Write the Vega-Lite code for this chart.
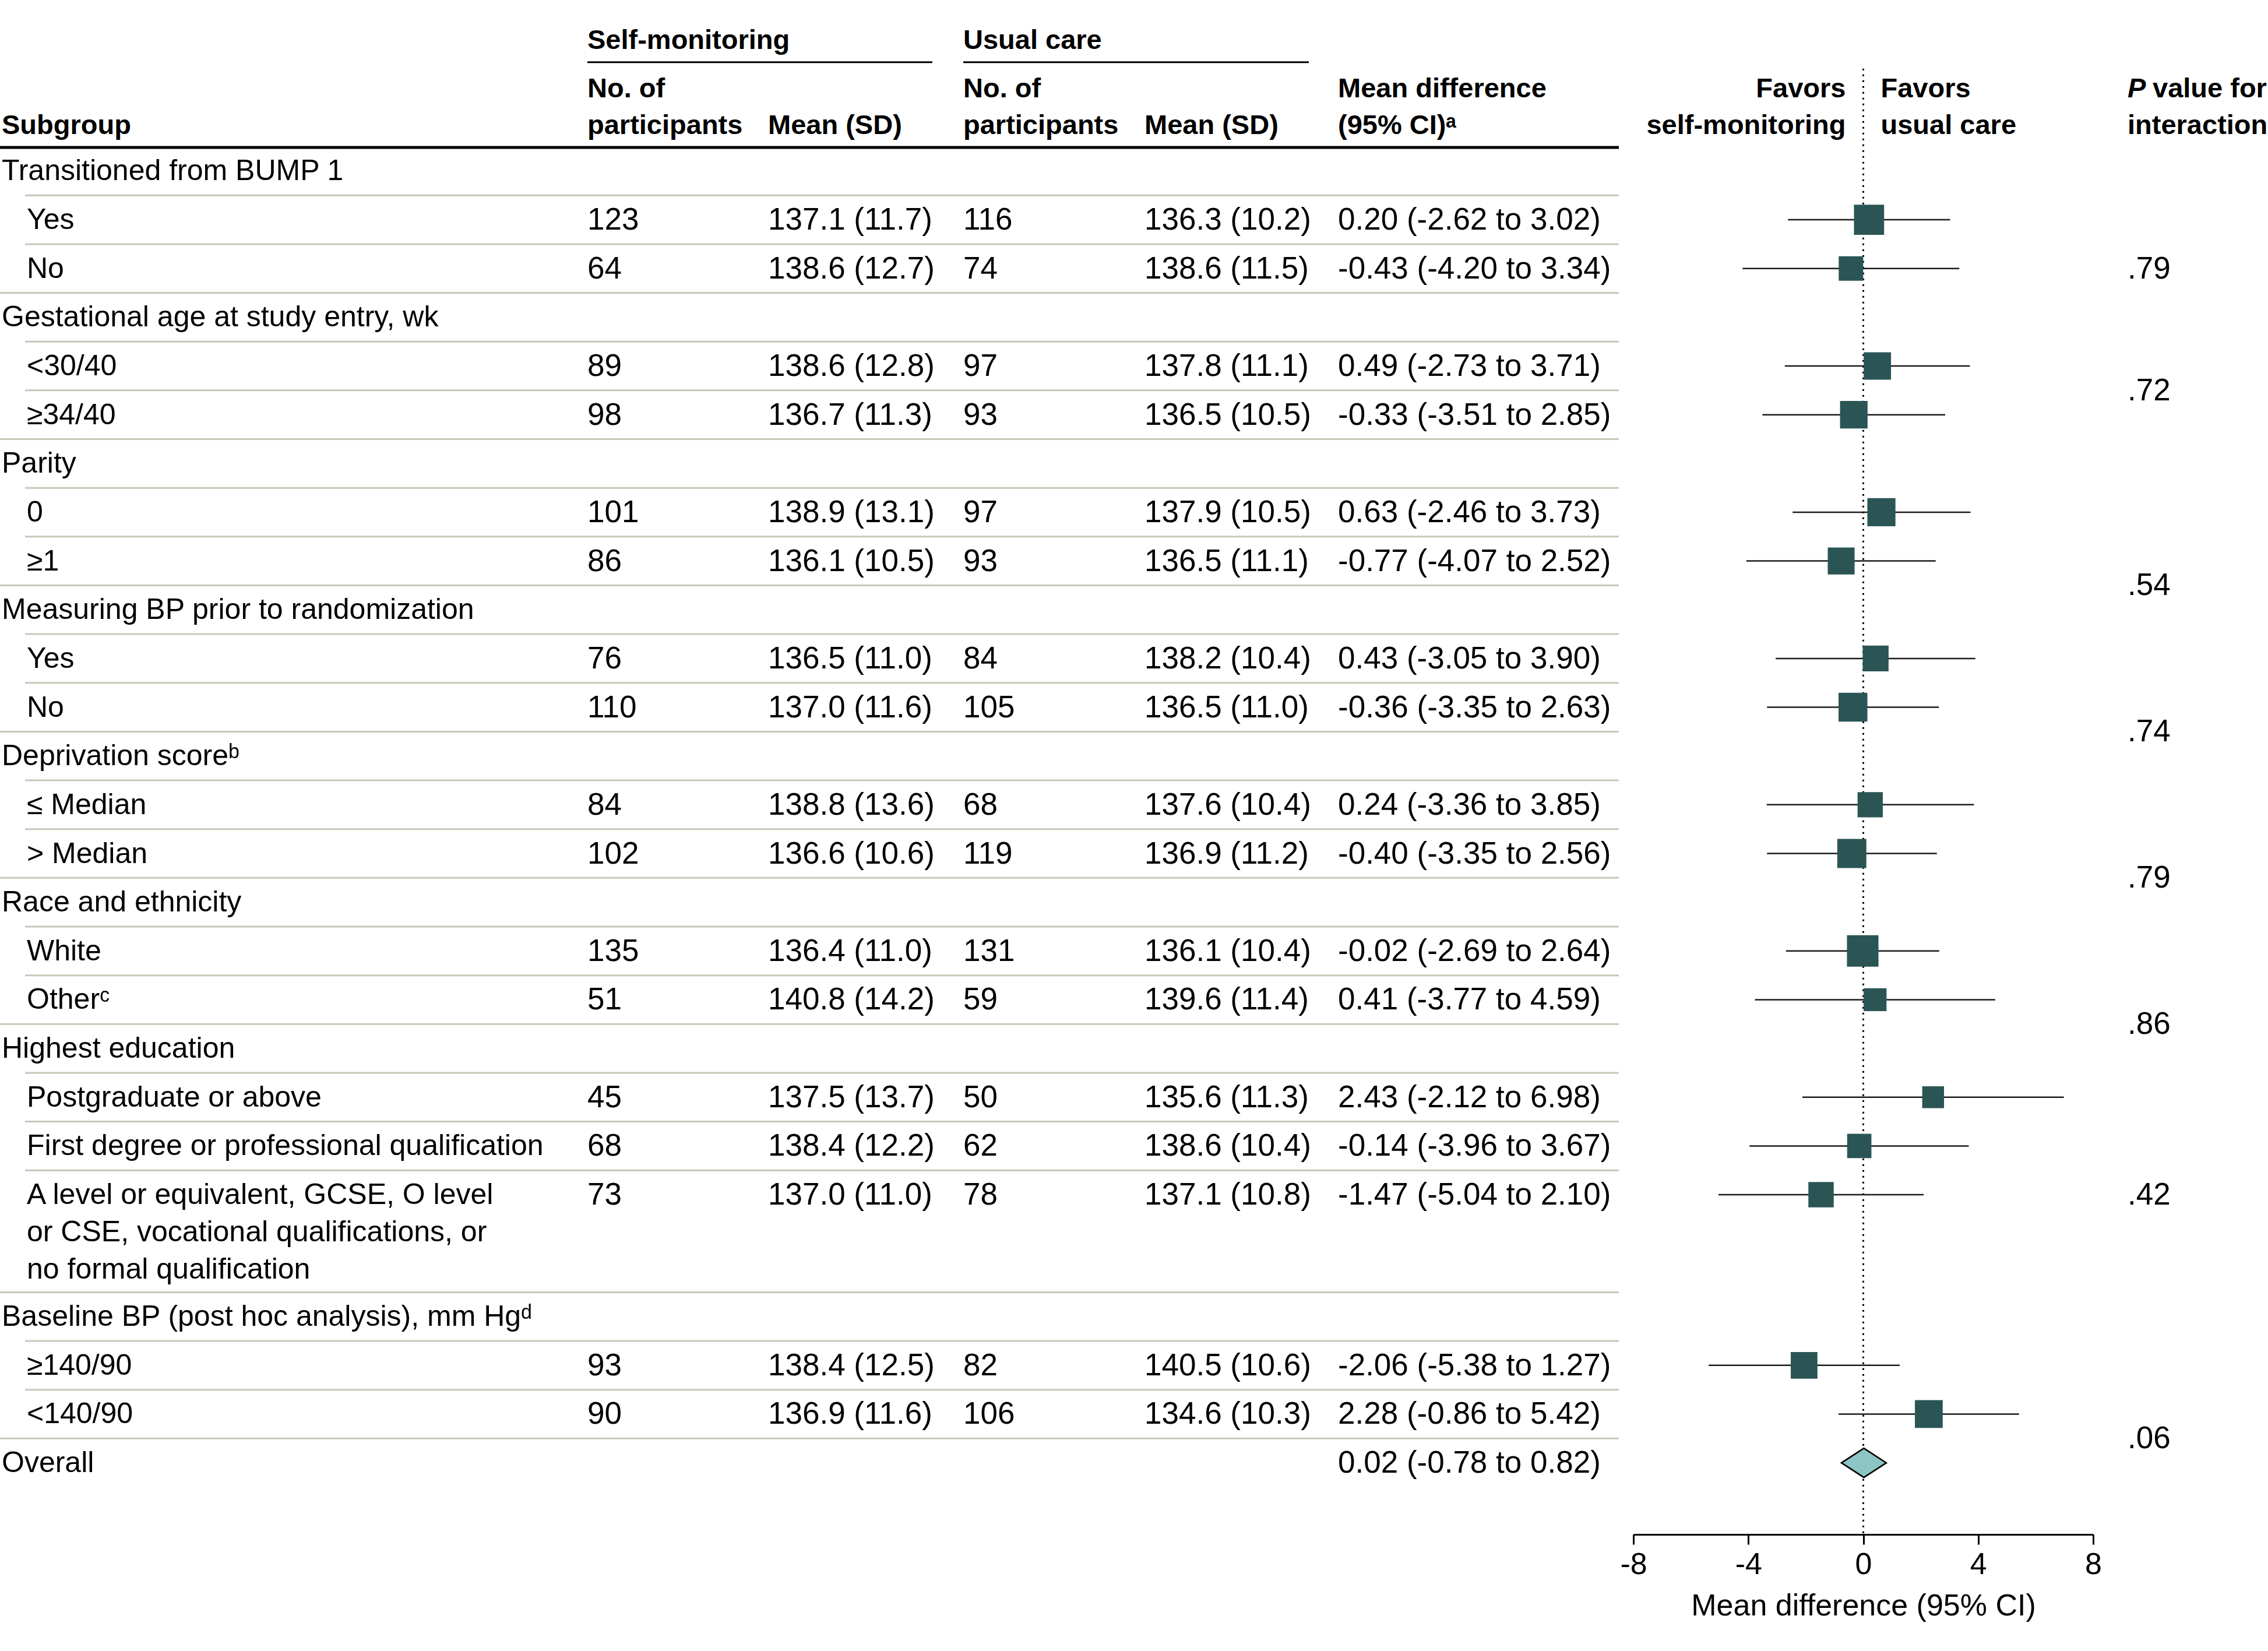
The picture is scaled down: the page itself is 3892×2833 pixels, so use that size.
{
  "$schema": "https://vega.github.io/schema/vega-lite/v6.json",
  "width": 3892,
  "height": 2633,
  "autosize": {"type": "none"},
  "padding": {"left": 0, "right": 0, "top": 0, "bottom": 200},
  "background": "white",
  "config": {
    "view": {"stroke": null},
    "font": "Liberation Sans",
    "text": {"font": "Liberation Sans", "color": "#000", "baseline": "alphabetic", "align": "left"},
    "axisX": {
      "labelFont": "Liberation Sans", "labelFontSize": 52, "labelColor": "#000",
      "titleFont": "Liberation Sans", "titleFontSize": 52, "titleFontWeight": "normal", "titleColor": "#000",
      "domainColor": "#000", "domainWidth": 3, "tickColor": "#000", "tickWidth": 3, "tickSize": 17,
      "labelPadding": 9, "titlePadding": 20, "grid": false, "labelFlush": false, "labelOverlap": false
    }
  },
  "datasets": {
    "rows": [
      {"r": 0, "kind": "group", "label": "Transitioned from BUMP 1"},
      {"r": 1, "kind": "item", "label": "Yes", "n1": "123", "m1": "137.1 (11.7)", "n2": "116", "m2": "136.3 (10.2)", "md": "0.20 (-2.62 to 3.02)", "est": 0.20, "lo": -2.62, "hi": 3.02, "weight": 0.483},
      {"r": 2, "kind": "item", "label": "No", "n1": "64", "m1": "138.6 (12.7)", "n2": "74", "m2": "138.6 (11.5)", "md": "-0.43 (-4.20 to 3.34)", "est": -0.43, "lo": -4.20, "hi": 3.34, "weight": 0.270},
      {"r": 3, "kind": "group", "label": "Gestational age at study entry, wk"},
      {"r": 4, "kind": "item", "label": "<30/40", "n1": "89", "m1": "138.6 (12.8)", "n2": "97", "m2": "137.8 (11.1)", "md": "0.49 (-2.73 to 3.71)", "est": 0.49, "lo": -2.73, "hi": 3.71, "weight": 0.370},
      {"r": 5, "kind": "item", "label": "≥34/40", "n1": "98", "m1": "136.7 (11.3)", "n2": "93", "m2": "136.5 (10.5)", "md": "-0.33 (-3.51 to 2.85)", "est": -0.33, "lo": -3.51, "hi": 2.85, "weight": 0.380},
      {"r": 6, "kind": "group", "label": "Parity"},
      {"r": 7, "kind": "item", "label": "0", "n1": "101", "m1": "138.9 (13.1)", "n2": "97", "m2": "137.9 (10.5)", "md": "0.63 (-2.46 to 3.73)", "est": 0.63, "lo": -2.46, "hi": 3.73, "weight": 0.401},
      {"r": 8, "kind": "item", "label": "≥1", "n1": "86", "m1": "136.1 (10.5)", "n2": "93", "m2": "136.5 (11.1)", "md": "-0.77 (-4.07 to 2.52)", "est": -0.77, "lo": -4.07, "hi": 2.52, "weight": 0.354},
      {"r": 9, "kind": "group", "label": "Measuring BP prior to randomization"},
      {"r": 10, "kind": "item", "label": "Yes", "n1": "76", "m1": "136.5 (11.0)", "n2": "84", "m2": "138.2 (10.4)", "md": "0.43 (-3.05 to 3.90)", "est": 0.43, "lo": -3.05, "hi": 3.90, "weight": 0.318},
      {"r": 11, "kind": "item", "label": "No", "n1": "110", "m1": "137.0 (11.6)", "n2": "105", "m2": "136.5 (11.0)", "md": "-0.36 (-3.35 to 2.63)", "est": -0.36, "lo": -3.35, "hi": 2.63, "weight": 0.430},
      {"r": 12, "kind": "group", "label": "Deprivation scoreᵇ"},
      {"r": 13, "kind": "item", "label": "≤ Median", "n1": "84", "m1": "138.8 (13.6)", "n2": "68", "m2": "137.6 (10.4)", "md": "0.24 (-3.36 to 3.85)", "est": 0.24, "lo": -3.36, "hi": 3.85, "weight": 0.296},
      {"r": 14, "kind": "item", "label": "> Median", "n1": "102", "m1": "136.6 (10.6)", "n2": "119", "m2": "136.9 (11.2)", "md": "-0.40 (-3.35 to 2.56)", "est": -0.40, "lo": -3.35, "hi": 2.56, "weight": 0.440},
      {"r": 15, "kind": "group", "label": "Race and ethnicity"},
      {"r": 16, "kind": "item", "label": "White", "n1": "135", "m1": "136.4 (11.0)", "n2": "131", "m2": "136.1 (10.4)", "md": "-0.02 (-2.69 to 2.64)", "est": -0.02, "lo": -2.69, "hi": 2.64, "weight": 0.541},
      {"r": 17, "kind": "item", "label": "Otherᶜ", "n1": "51", "m1": "140.8 (14.2)", "n2": "59", "m2": "139.6 (11.4)", "md": "0.41 (-3.77 to 4.59)", "est": 0.41, "lo": -3.77, "hi": 4.59, "weight": 0.220},
      {"r": 18, "kind": "group", "label": "Highest education"},
      {"r": 19, "kind": "item", "label": "Postgraduate or above", "n1": "45", "m1": "137.5 (13.7)", "n2": "50", "m2": "135.6 (11.3)", "md": "2.43 (-2.12 to 6.98)", "est": 2.43, "lo": -2.12, "hi": 6.98, "weight": 0.186},
      {"r": 20, "kind": "item", "label": "First degree or professional qualification", "n1": "68", "m1": "138.4 (12.2)", "n2": "62", "m2": "138.6 (10.4)", "md": "-0.14 (-3.96 to 3.67)", "est": -0.14, "lo": -3.96, "hi": 3.67, "weight": 0.264},
      {"r": 21, "kind": "item", "label": "A level or equivalent, GCSE, O level\nor CSE, vocational qualifications, or\nno formal qualification", "n1": "73", "m1": "137.0 (11.0)", "n2": "78", "m2": "137.1 (10.8)", "md": "-1.47 (-5.04 to 2.10)", "est": -1.47, "lo": -5.04, "hi": 2.10, "weight": 0.301},
      {"r": 23.5, "kind": "group", "label": "Baseline BP (post hoc analysis), mm Hgᵈ"},
      {"r": 24.5, "kind": "item", "label": "≥140/90", "n1": "93", "m1": "138.4 (12.5)", "n2": "82", "m2": "140.5 (10.6)", "md": "-2.06 (-5.38 to 1.27)", "est": -2.06, "lo": -5.38, "hi": 1.27, "weight": 0.348},
      {"r": 25.5, "kind": "item", "label": "<140/90", "n1": "90", "m1": "136.9 (11.6)", "n2": "106", "m2": "134.6 (10.3)", "md": "2.28 (-0.86 to 5.42)", "est": 2.28, "lo": -0.86, "hi": 5.42, "weight": 0.390},
      {"r": 26.5, "kind": "overall", "label": "Overall", "md": "0.02 (-0.78 to 0.82)", "est": 0.02, "lo": -0.78, "hi": 0.82}
    ],
    "pvals": [
      {"r": 2, "p": ".79"},
      {"r": 4.5, "p": ".72"},
      {"r": 8.5, "p": ".54"},
      {"r": 11.5, "p": ".74"},
      {"r": 14.5, "p": ".79"},
      {"r": 17.5, "p": ".86"},
      {"r": 21, "p": ".42"},
      {"r": 26, "p": ".06"}
    ]
  },
  "layer": [
    {
      "data": {"values": [{"line": "header"}]},
      "mark": {"type": "rule", "color": "#000", "strokeWidth": 5},
      "encoding": {
        "x": {"value": 0}, "x2": {"value": 2778},
        "y": {"datum": -0.483, "type": "quantitative", "scale": {"domain": [0, 28], "range": [293.4, 2635.6], "nice": false, "zero": false}, "axis": null}
      }
    },
    {
      "data": {"values": [{"line": "self"}]},
      "mark": {"type": "rule", "color": "#000", "strokeWidth": 3},
      "encoding": {
        "x": {"value": 1008}, "x2": {"value": 1600},
        "y": {"datum": -2.23, "type": "quantitative", "axis": null}
      }
    },
    {
      "data": {"values": [{"line": "usual"}]},
      "mark": {"type": "rule", "color": "#000", "strokeWidth": 3},
      "encoding": {
        "x": {"value": 1653}, "x2": {"value": 2246},
        "y": {"datum": -2.23, "type": "quantitative", "axis": null}
      }
    },
    {
      "data": {"name": "rows"},
      "transform": [{"filter": "datum.kind != 'item' && datum.r > 0"}],
      "mark": {"type": "rule", "color": "#c6c9b9", "strokeWidth": 3, "yOffset": -41.8},
      "encoding": {
        "x": {"value": 0}, "x2": {"value": 2778},
        "y": {"field": "r", "type": "quantitative", "axis": null}
      }
    },
    {
      "data": {"name": "rows"},
      "transform": [{"filter": "datum.kind == 'item'"}],
      "mark": {"type": "rule", "color": "#c6c9b9", "strokeWidth": 3, "yOffset": -41.8},
      "encoding": {
        "x": {"value": 43}, "x2": {"value": 2778},
        "y": {"field": "r", "type": "quantitative", "axis": null}
      }
    },
    {
      "data": {"name": "rows"},
      "transform": [{"filter": "datum.kind != 'item'"}],
      "mark": {"type": "text", "fontSize": 50, "dy": 16},
      "encoding": {
        "x": {"value": 3},
        "y": {"field": "r", "type": "quantitative", "axis": null},
        "text": {"field": "label", "type": "nominal"}
      }
    },
    {
      "data": {"name": "rows"},
      "transform": [{"filter": "datum.kind == 'item'"}],
      "mark": {"type": "text", "fontSize": 50, "dy": 16, "lineBreak": "\n", "lineHeight": 64},
      "encoding": {
        "x": {"value": 46},
        "y": {"field": "r", "type": "quantitative", "axis": null},
        "text": {"field": "label", "type": "nominal"}
      }
    },
    {
      "data": {"name": "rows"},
      "transform": [{"filter": "isValid(datum.n1)"}],
      "mark": {"type": "text", "fontSize": 53, "dy": 17},
      "encoding": {
        "x": {"value": 1008},
        "y": {"field": "r", "type": "quantitative", "axis": null},
        "text": {"field": "n1", "type": "nominal"}
      }
    },
    {
      "data": {"name": "rows"},
      "transform": [{"filter": "isValid(datum.m1)"}],
      "mark": {"type": "text", "fontSize": 53, "dy": 17},
      "encoding": {
        "x": {"value": 1318},
        "y": {"field": "r", "type": "quantitative", "axis": null},
        "text": {"field": "m1", "type": "nominal"}
      }
    },
    {
      "data": {"name": "rows"},
      "transform": [{"filter": "isValid(datum.n2)"}],
      "mark": {"type": "text", "fontSize": 53, "dy": 17},
      "encoding": {
        "x": {"value": 1653},
        "y": {"field": "r", "type": "quantitative", "axis": null},
        "text": {"field": "n2", "type": "nominal"}
      }
    },
    {
      "data": {"name": "rows"},
      "transform": [{"filter": "isValid(datum.m2)"}],
      "mark": {"type": "text", "fontSize": 53, "dy": 17},
      "encoding": {
        "x": {"value": 1964},
        "y": {"field": "r", "type": "quantitative", "axis": null},
        "text": {"field": "m2", "type": "nominal"}
      }
    },
    {
      "data": {"name": "rows"},
      "transform": [{"filter": "isValid(datum.md)"}],
      "mark": {"type": "text", "fontSize": 53, "dy": 17},
      "encoding": {
        "x": {"value": 2296},
        "y": {"field": "r", "type": "quantitative", "axis": null},
        "text": {"field": "md", "type": "nominal"}
      }
    },
    {
      "data": {"name": "pvals"},
      "mark": {"type": "text", "fontSize": 53, "dy": 17},
      "encoding": {
        "x": {"value": 3651},
        "y": {"field": "r", "type": "quantitative", "axis": null},
        "text": {"field": "p", "type": "nominal"}
      }
    },
    {
      "data": {"values": [{"t": "Subgroup", "r": -0.96}]},
      "mark": {"type": "text", "fontSize": 47, "fontWeight": "bold", "dy": 17},
      "encoding": {
        "x": {"value": 3},
        "y": {"field": "r", "type": "quantitative", "axis": null},
        "text": {"field": "t", "type": "nominal"}
      }
    },
    {
      "data": {"values": [{"t": "Self-monitoring", "r": -2.71}, {"t": "No. of", "r": -1.71}, {"t": "participants", "r": -0.96}]},
      "mark": {"type": "text", "fontSize": 47, "fontWeight": "bold", "dy": 17},
      "encoding": {
        "x": {"value": 1008},
        "y": {"field": "r", "type": "quantitative", "axis": null},
        "text": {"field": "t", "type": "nominal"}
      }
    },
    {
      "data": {"values": [{"t": "Mean (SD)", "r": -0.96}]},
      "mark": {"type": "text", "fontSize": 47, "fontWeight": "bold", "dy": 17},
      "encoding": {
        "x": {"value": 1318},
        "y": {"field": "r", "type": "quantitative", "axis": null},
        "text": {"field": "t", "type": "nominal"}
      }
    },
    {
      "data": {"values": [{"t": "Usual care", "r": -2.71}, {"t": "No. of", "r": -1.71}, {"t": "participants", "r": -0.96}]},
      "mark": {"type": "text", "fontSize": 47, "fontWeight": "bold", "dy": 17},
      "encoding": {
        "x": {"value": 1653},
        "y": {"field": "r", "type": "quantitative", "axis": null},
        "text": {"field": "t", "type": "nominal"}
      }
    },
    {
      "data": {"values": [{"t": "Mean (SD)", "r": -0.96}]},
      "mark": {"type": "text", "fontSize": 47, "fontWeight": "bold", "dy": 17},
      "encoding": {
        "x": {"value": 1964},
        "y": {"field": "r", "type": "quantitative", "axis": null},
        "text": {"field": "t", "type": "nominal"}
      }
    },
    {
      "data": {"values": [{"t": "Mean difference", "r": -1.71}, {"t": "(95% CI)ᵃ", "r": -0.96}]},
      "mark": {"type": "text", "fontSize": 47, "fontWeight": "bold", "dy": 17},
      "encoding": {
        "x": {"value": 2296},
        "y": {"field": "r", "type": "quantitative", "axis": null},
        "text": {"field": "t", "type": "nominal"}
      }
    },
    {
      "data": {"values": [{"t": "P", "r": -1.71}]},
      "mark": {"type": "text", "fontSize": 47, "fontWeight": "bold", "fontStyle": "italic", "dy": 17},
      "encoding": {
        "x": {"value": 3651},
        "y": {"field": "r", "type": "quantitative", "axis": null},
        "text": {"field": "t", "type": "nominal"}
      }
    },
    {
      "data": {"values": [{"t": "value for", "r": -1.71}]},
      "mark": {"type": "text", "fontSize": 47, "fontWeight": "bold", "dy": 17},
      "encoding": {
        "x": {"value": 3694},
        "y": {"field": "r", "type": "quantitative", "axis": null},
        "text": {"field": "t", "type": "nominal"}
      }
    },
    {
      "data": {"values": [{"t": "interaction", "r": -0.96}]},
      "mark": {"type": "text", "fontSize": 47, "fontWeight": "bold", "dy": 17},
      "encoding": {
        "x": {"value": 3651},
        "y": {"field": "r", "type": "quantitative", "axis": null},
        "text": {"field": "t", "type": "nominal"}
      }
    },
    {
      "data": {"values": [{"ref": 0}]},
      "mark": {"type": "rule", "color": "#000", "strokeWidth": 3, "strokeDash": [3, 7]},
      "encoding": {
        "x": {"field": "ref", "type": "quantitative", "scale": {"domain": [-8, 8], "range": [2803, 3592], "nice": false, "zero": false}, "title": "Mean difference (95% CI)",
              "axis": {"values": [-8, -4, 0, 4, 8], "labelExpr": "datum.value < 0 ? '-' + abs(datum.value) : '' + datum.value"}},
        "y": {"datum": -2.1, "type": "quantitative", "axis": null},
        "y2": {"datum": 28}
      }
    },
    {
      "data": {"name": "rows"},
      "transform": [{"filter": "datum.kind == 'item'"}],
      "mark": {"type": "rule", "color": "#1b1b1b", "strokeWidth": 2.5},
      "encoding": {
        "x": {"field": "lo", "type": "quantitative", "title": "Mean difference (95% CI)"},
        "x2": {"field": "hi", "title": "Mean difference (95% CI)"},
        "y": {"field": "r", "type": "quantitative", "axis": null}
      }
    },
    {
      "data": {"name": "rows"},
      "transform": [{"filter": "datum.kind == 'item'"}],
      "mark": {"type": "point", "shape": "square", "filled": true, "color": "#2b5555", "opacity": 1, "strokeWidth": 0},
      "encoding": {
        "x": {"field": "est", "type": "quantitative", "title": "Mean difference (95% CI)"},
        "y": {"field": "r", "type": "quantitative", "axis": null},
        "size": {"field": "weight", "type": "quantitative", "scale": {"domain": [0, 1], "range": [600, 4900], "zero": false}, "legend": null}
      }
    },
    {
      "data": {"name": "rows"},
      "transform": [{"filter": "datum.kind == 'overall'"}],
      "mark": {"type": "point", "shape": "M-1,0L0,-0.65L1,0L0,0.65Z", "size": 5929, "filled": true, "color": "#8cc5c3", "stroke": "#000", "strokeWidth": 2.5, "opacity": 1},
      "encoding": {
        "x": {"field": "est", "type": "quantitative", "title": "Mean difference (95% CI)"},
        "y": {"field": "r", "type": "quantitative", "axis": null}
      }
    },
    {
      "data": {"values": [{"t": "Favors", "r": -1.71, "ref": 0}, {"t": "self-monitoring", "r": -0.96, "ref": 0}]},
      "mark": {"type": "text", "fontSize": 47, "fontWeight": "bold", "dy": 17, "dx": -30, "align": "right"},
      "encoding": {
        "x": {"field": "ref", "type": "quantitative", "title": "Mean difference (95% CI)"},
        "y": {"field": "r", "type": "quantitative", "axis": null},
        "text": {"field": "t", "type": "nominal"}
      }
    },
    {
      "data": {"values": [{"t": "Favors", "r": -1.71, "ref": 0}, {"t": "usual care", "r": -0.96, "ref": 0}]},
      "mark": {"type": "text", "fontSize": 47, "fontWeight": "bold", "dy": 17, "dx": 30, "align": "left"},
      "encoding": {
        "x": {"field": "ref", "type": "quantitative", "title": "Mean difference (95% CI)"},
        "y": {"field": "r", "type": "quantitative", "axis": null},
        "text": {"field": "t", "type": "nominal"}
      }
    }
  ]
}
